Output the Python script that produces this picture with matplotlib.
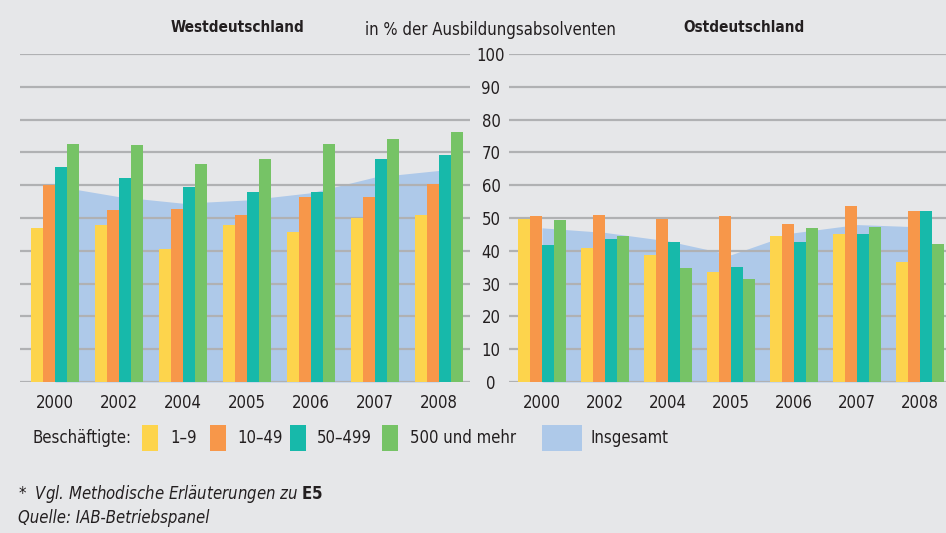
import numpy as np
import matplotlib
matplotlib.use('Agg')
import matplotlib.pyplot as plt
from matplotlib.patches import Rectangle

plt.rcParams['font.family'] = ['DejaVu Sans']
plt.rcParams['font.stretch'] = 'condensed'

years = ['2000', '2002', '2004', '2005', '2006', '2007', '2008']
groups = ['1–9', '10–49', '50–499', '500 und mehr']

# Westdeutschland
west_1_9 = [46.9, 47.8, 40.4, 48.0, 45.7, 49.9, 51.0]
west_10_49 = [60.1, 52.3, 52.6, 50.8, 56.5, 56.5, 60.4]
west_50_499 = [65.7, 62.2, 59.5, 58.0, 58.0, 68.1, 69.3]
west_500 = [72.5, 72.2, 66.6, 68.1, 72.5, 74.0, 76.1]
west_total = [59.8, 56.5, 54.5, 55.5, 57.7, 62.5, 64.5]

# Ostdeutschland
ost_1_9 = [49.8, 41.0, 38.6, 33.6, 44.5, 45.0, 36.5]
ost_10_49 = [50.5, 50.8, 49.6, 50.5, 48.1, 53.8, 52.0]
ost_50_499 = [41.9, 43.6, 42.8, 35.0, 42.8, 45.0, 52.0]
ost_500 = [49.3, 44.5, 34.7, 31.5, 46.8, 47.2, 42.2]
ost_total = [47.0, 45.6, 43.0, 38.8, 45.5, 48.0, 47.3]

colors = ['#FDD44C', '#F7974A', '#17B9AA', '#76C366']
area_color = '#AEC9E9'
bg = '#E6E7E9'
grid_color = '#B0B1B3'
text_color = '#231F20'

fig = plt.figure(figsize=(9.46, 5.33), dpi=100, facecolor=bg)
W, H = 946, 533

def box(x0, y0, x1, y1):
    # pixel box (top-left origin) -> figure fraction rect
    return [x0 / W, 1 - y1 / H, (x1 - x0) / W, (y1 - y0) / H]

ax1 = fig.add_axes(box(20, 54, 470, 382))
ax2 = fig.add_axes(box(509, 54, 946, 382))

x = np.arange(len(years))
bw = 0.19

def draw(ax, series, total, xlim):
    ax.set_facecolor(bg)
    ax.fill_between(x, 0, total, color=area_color, lw=0, zorder=1)
    for i, (vals, c) in enumerate(zip(series, colors)):
        ax.bar(x + (i - 1.5) * bw, vals, width=bw * 0.95, color=c, zorder=2, lw=0)
    ax.set_ylim(0, 100)
    ax.set_xlim(*xlim)
    ax.set_yticks(range(0, 101, 10))
    ax.set_axisbelow('line')
    ax.grid(axis='y', color=grid_color, lw=1.6)
    ax.set_xticks(x)
    ax.set_xticklabels(years, fontsize=12, color=text_color)
    ax.tick_params(axis='both', length=0)
    ax.tick_params(axis='x', pad=9)
    for s in ax.spines.values():
        s.set_visible(False)

draw(ax1, [west_1_9, west_10_49, west_50_499, west_500], west_total, (-35 / 64, 415 / 64))
draw(ax2, [ost_1_9, ost_10_49, ost_50_499, ost_500], ost_total, (-33 / 63, 404 / 63))

ax1.set_yticklabels([])
ax2.set_yticklabels([str(v) for v in range(0, 101, 10)], fontsize=12, color=text_color)
ax2.tick_params(axis='y', pad=13)
for lbl in ax2.get_yticklabels():
    lbl.set_ha('center')

# titles
fig.text(237 / W, 1 - 28 / H, 'Westdeutschland', ha='center', va='center',
         fontsize=11, fontweight='bold', color=text_color)
fig.text(490 / W, 1 - 30 / H, 'in % der Ausbildungsabsolventen', ha='center', va='center',
         fontsize=12, color=text_color)
fig.text(744 / W, 1 - 28 / H, 'Ostdeutschland', ha='center', va='center',
         fontsize=11, fontweight='bold', color=text_color)

# legend
ly = 438
fig.text(33 / W, 1 - ly / H, 'Beschäftigte:', ha='left', va='center', fontsize=12, color=text_color)
legend_items = [(142, 158, colors[0], 170, groups[0]),
                (210, 226, colors[1], 237, groups[1]),
                (290, 306, colors[2], 317, groups[2]),
                (382, 398, colors[3], 410, groups[3]),
                (542, 582, area_color, 590, 'Insgesamt')]
for x0, x1, c, tx, label in legend_items:
    fig.patches.append(Rectangle((x0 / W, 1 - 451 / H), (x1 - x0) / W, 26 / H,
                                 transform=fig.transFigure, color=c, lw=0))
    fig.text(tx / W, 1 - ly / H, label, ha='left', va='center', fontsize=12, color=text_color)

# footnotes
fig.text(18 / W, 1 - 494 / H, '*  Vgl. Methodische Erläuterungen zu $\\mathbf{E5}$',
         ha='left', va='center', fontsize=12, style='italic', color=text_color)
fig.text(18 / W, 1 - 518 / H, 'Quelle: IAB-Betriebspanel', ha='left', va='center',
         fontsize=12, style='italic', color=text_color)

fig.savefig('out.png', dpi=100, facecolor=bg)
